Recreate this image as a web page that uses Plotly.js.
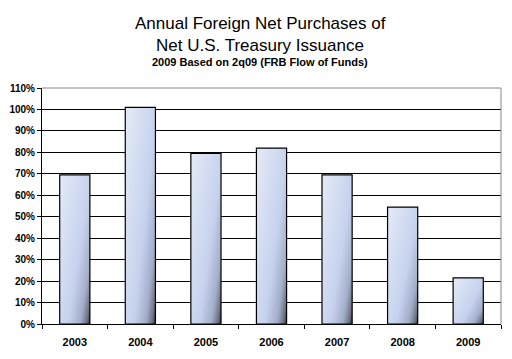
<!DOCTYPE html>
<html><head><meta charset="utf-8">
<script src="https://cdn.plot.ly/plotly-3.0.1.min.js"></script>
<style>body{margin:0;background:#fff}#c{width:512px;height:359px}</style>
</head><body><div id="c"></div>
<script>
const years = ["2003","2004","2005","2006","2007","2008","2009"];
const purchases = [0.695, 1.01, 0.795, 0.82, 0.695, 0.545, 0.215];
const yTicks = [0,0.1,0.2,0.3,0.4,0.5,0.6,0.7,0.8,0.9,1.0,1.1];
const yTickText = ["0%","10%","20%","30%","40%","50%","60%","70%","80%","90%","100%","110%"];
const titleLines = ["Annual Foreign Net Purchases of", "Net U.S. Treasury Issuance", "2009 Based on 2q09 (FRB Flow of Funds)"];

const FONT = "Liberation Sans, Arial, sans-serif";
const trace = {
  type: "bar", x: years, y: purchases,
  marker: {color: "#c9d5ee", line: {color: "#000", width: 1.2}},
  hoverinfo: "skip"
};
const layout = {
  width: 512, height: 359,
  margin: {l: 42, r: 11, t: 88, b: 35},
  paper_bgcolor: "#fff", plot_bgcolor: "#fff",
  font: {family: FONT, color: "#000"},
  bargap: 0.54,
  showlegend: false,
  annotations: [
    {text: titleLines[0], xref: "paper", yref: "paper", x: 0.475, y: 1, yshift: 65, xanchor: "center", yanchor: "middle", showarrow: false, font: {size: 17, color: "#000", family: FONT}},
    {text: titleLines[1], xref: "paper", yref: "paper", x: 0.475, y: 1, yshift: 43, xanchor: "center", yanchor: "middle", showarrow: false, font: {size: 17, color: "#000", family: FONT}},
    {text: "<b>" + titleLines[2] + "</b>", xref: "paper", yref: "paper", x: 0.475, y: 1, yshift: 26, xanchor: "center", yanchor: "middle", showarrow: false, font: {size: 11, color: "#000", family: FONT}}
  ],
  xaxis: {
    type: "category", showgrid: false, showline: true, linecolor: "#000", linewidth: 1,
    ticks: "outside", tickson: "boundaries", ticklen: 4, tickcolor: "#000",
    ticklabelstandoff: 8,
    tickfont: {size: 11, color: "#000", family: FONT, weight: "bold"},
    fixedrange: true
  },
  yaxis: {
    range: [0, 1.1], tickvals: yTicks, ticktext: yTickText,
    showgrid: true, gridcolor: "#000", gridwidth: 1,
    showline: true, linecolor: "#000", linewidth: 1,
    ticks: "outside", ticklen: 4, tickcolor: "#000",
    tickfont: {size: 10, color: "#000", family: FONT, weight: "bold"},
    zeroline: false, fixedrange: true
  },
  shapes: [
    {type: "line", xref: "paper", yref: "paper", x0: 1, x1: 1, y0: 0, y1: 1, line: {color: "#888", width: 1}},
    {type: "line", xref: "paper", yref: "paper", x0: 0, x1: 1, y0: 1, y1: 1, line: {color: "#888", width: 1}}
  ]
};
Plotly.newPlot("c", [trace], layout, {displayModeBar: false, staticPlot: true}).then(function(gd){
  const svg = gd.querySelector(".main-svg");
  const ns = "http://www.w3.org/2000/svg";
  let defs = svg.querySelector("defs");
  const g = document.createElementNS(ns, "linearGradient");
  g.setAttribute("id", "barGrad");
  g.setAttribute("x1", "0"); g.setAttribute("y1", "0.2"); g.setAttribute("x2", "1"); g.setAttribute("y2", "1");
  [["0", "#e0e7f5"], ["0.55", "#c6d2ee"], ["0.8", "#a3afca"], ["0.93", "#6c7386"], ["1", "#2e323c"]].forEach(function(s){
    const st = document.createElementNS(ns, "stop");
    st.setAttribute("offset", s[0]); st.setAttribute("stop-color", s[1]);
    g.appendChild(st);
  });
  defs.appendChild(g);
  gd.querySelectorAll(".bars .point path").forEach(function(p){
    p.style.fill = "url(#barGrad)";
  });
});
</script></body></html>
